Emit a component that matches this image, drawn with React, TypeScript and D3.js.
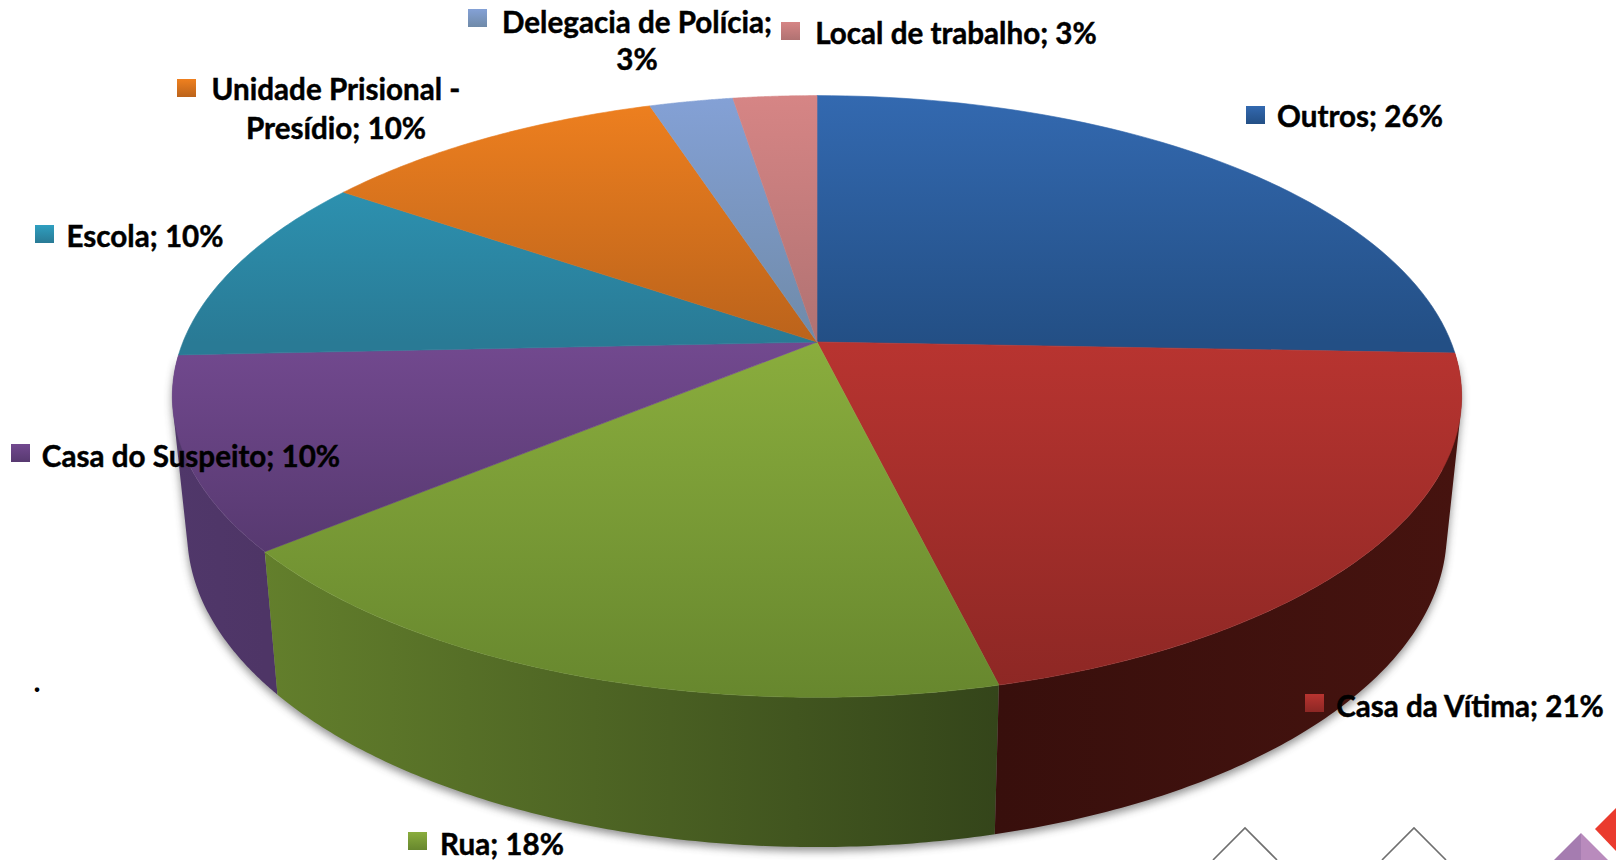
import React from "react";
import * as d3 from "d3";

const categories = ["Outros", "Casa da Vítima", "Rua", "Casa do Suspeito", "Escola", "Unidade Prisional - Presídio", "Delegacia de Polícia", "Local de trabalho"];
const shares = [25.6, 20.6, 17.8, 10.3, 10.3, 10.4, 2.5, 2.5];
const topLight = ["#3369b0", "#b83430", "#8aad3d", "#72498f", "#2f9fc0", "#ef801f", "#84a1d6", "#d68585"];
const topDark = ["#234f85", "#8c2724", "#67872e", "#573970", "#297a95", "#bb631b", "#6f8aa8", "#b07272"];
const wallLeft = ["#234f85", "#380f0c", "#637f2c", "#50376a", "#297a95", "#bb631b", "#6f8aa8", "#b07272"];
const wallRight = ["#234f85", "#46130f", "#34451a", "#4e3566", "#297a95", "#bb631b", "#6f8aa8", "#b07272"];

const labelLines = [
  ["Outros; 26%"],
  ["Casa da Vítima; 21%"],
  ["Rua; 18%"],
  ["Casa do Suspeito; 10%"],
  ["Escola; 10%"],
  ["Unidade Prisional -", "Presídio; 10%"],
  ["Delegacia de Polícia;", "3%"],
  ["Local de trabalho; 3%"],
];
// key square x,y ; text centre x ; first baseline y ; line gap
const labelLayout = [
  { kx: 1246, ky: 106, tx: 1360, by: 127, gap: 0 },
  { kx: 1305, ky: 694, tx: 1470, by: 717, gap: 0 },
  { kx: 408, ky: 832, tx: 502, by: 855, gap: 0 },
  { kx: 11, ky: 444, tx: 191, by: 467, gap: 0 },
  { kx: 35, ky: 225, tx: 145, by: 247, gap: 0 },
  { kx: 177, ky: 79, tx: 336, by: 100, gap: 39 },
  { kx: 468, ky: 9, tx: 637, by: 33, gap: 37 },
  { kx: 781, ky: 22, tx: 956, by: 44, gap: 0 },
];

const W = 1616, H = 860;
const CX = 817, CY = 342, A = 634, B = 291, K = 0.181;
const WALL_SCALE = 0.977, WALL_DROP = 143, WALL_SLOPE = 0.046, WALL_REF = 551;

const project = (t: number): [number, number] => {
  const w = 1 + K * Math.cos(t);
  return [CX + (A * Math.sin(t)) / w, CY - (B * Math.cos(t)) / w];
};
const projectBase = (t: number): [number, number] => {
  const [x, y] = project(t);
  return [CX + (x - CX) * WALL_SCALE, y + WALL_DROP + WALL_SLOPE * (y - WALL_REF)];
};
const samples = (a: number, b: number, n = 60) => d3.range(0, n + 1).map((i) => a + ((b - a) * i) / n);
const line = d3.line<[number, number]>();

const wallPath = (a: number, b: number) => {
  const s = samples(a, b, 120);
  return d3.pairs(s).map(([t0, t1]) => {
    const q: [number, number][] = [project(t0), project(t1), projectBase(t1), projectBase(t0)];
    if (d3.polygonArea(q) < 0) q.reverse();
    return line(q) + "Z";
  }).join("");
};

const arcs = d3.pie<number>().sort(null)(shares);
const labelFont = "Lato, Carlito, sans-serif";
const frontSlices = [3, 2, 1];

export default function App() {
  const baseHull = frontSlices.map((i) => wallPath(arcs[i].startAngle, arcs[i].endAngle)).join("");
  const xExtent = (i: number) => d3.extent(samples(arcs[i].startAngle, arcs[i].endAngle).map((t) => project(t)[0])) as [number, number];
  return (
    <svg width={W} height={H} viewBox={`0 0 ${W} ${H}`} style={{ position: "fixed", left: 0, top: 0, background: "#fff" }}>
      <defs>
        <filter id="soft" x="-10%" y="-10%" width="120%" height="120%">
          <feGaussianBlur stdDeviation="4" />
        </filter>
        {arcs.map((_, i) => (
          <linearGradient key={i} id={`top${i}`} gradientUnits="userSpaceOnUse" x1="0" x2="0"
            y1={i >= 1 && i <= 3 ? CY : CY - B / (1 + K)}
            y2={i === 3 ? CY + 210 : i >= 1 && i <= 2 ? CY + B / (1 - K) : CY}>
            <stop offset="0" stopColor={topLight[i]} />
            <stop offset="1" stopColor={topDark[i]} />
          </linearGradient>
        ))}
        {frontSlices.map((i) => {
          const [x0, x1] = xExtent(i);
          return (
            <linearGradient key={i} id={`wall${i}`} gradientUnits="userSpaceOnUse" x1={x0} x2={x1} y1="0" y2="0">
              <stop offset="0" stopColor={wallLeft[i]} />
              <stop offset="1" stopColor={wallRight[i]} />
            </linearGradient>
          );
        })}
        {arcs.map((_, i) => (
          <linearGradient key={i} id={`key${i}`} x1="0" x2="0" y1="0" y2="1">
            <stop offset="0" stopColor={topLight[i]} />
            <stop offset="1" stopColor={topDark[i]} />
          </linearGradient>
        ))}
      </defs>

      <path d={baseHull} fill="#444" opacity={0.6} filter="url(#soft)" transform="translate(0,4)" />

      {frontSlices.map((i) => (
        <path key={i} d={wallPath(arcs[i].startAngle, arcs[i].endAngle)} fill={`url(#wall${i})`} />
      ))}

      {arcs.map((a, i) => {
        const d = line([[CX, CY], ...samples(a.startAngle, a.endAngle).map(project)]) + "Z";
        return <path key={i} d={d} fill={`url(#top${i})`} stroke={`url(#top${i})`} strokeWidth={0.6} />;
      })}

      {categories.map((c, i) => {
        const l = labelLayout[i];
        return (
          <g key={c}>
            <rect x={l.kx} y={l.ky} width={19} height={18} fill={`url(#key${i})`} />
            {labelLines[i].map((t, j) => (
              <text key={j} x={l.tx} y={l.by + j * l.gap} textAnchor="middle" fontFamily={labelFont} fontWeight={700} fontSize={29.6} fill="#000" stroke="#000" strokeWidth={0.45}>
                {t}
              </text>
            ))}
          </g>
        );
      })}
      <text x={37} y={692} fontFamily={labelFont} fontWeight={700} fontSize={29.8} fill="#000" textAnchor="middle">.</text>

      <g fill="none" stroke="#6f6f6f" strokeWidth={1.6}>
        <path d="M1213 860L1245 828L1277 860" />
        <path d="M1382 860L1414 828L1446 860" />
      </g>
      <path d="M1554 860L1581 833V860Z" fill="#a57cb0" />
      <path d="M1581 833L1608 860H1581Z" fill="#b98bbd" />
      <path d="M1595 829L1616 808V851Z" fill="#ea3b2e" />
    </svg>
  );
}
